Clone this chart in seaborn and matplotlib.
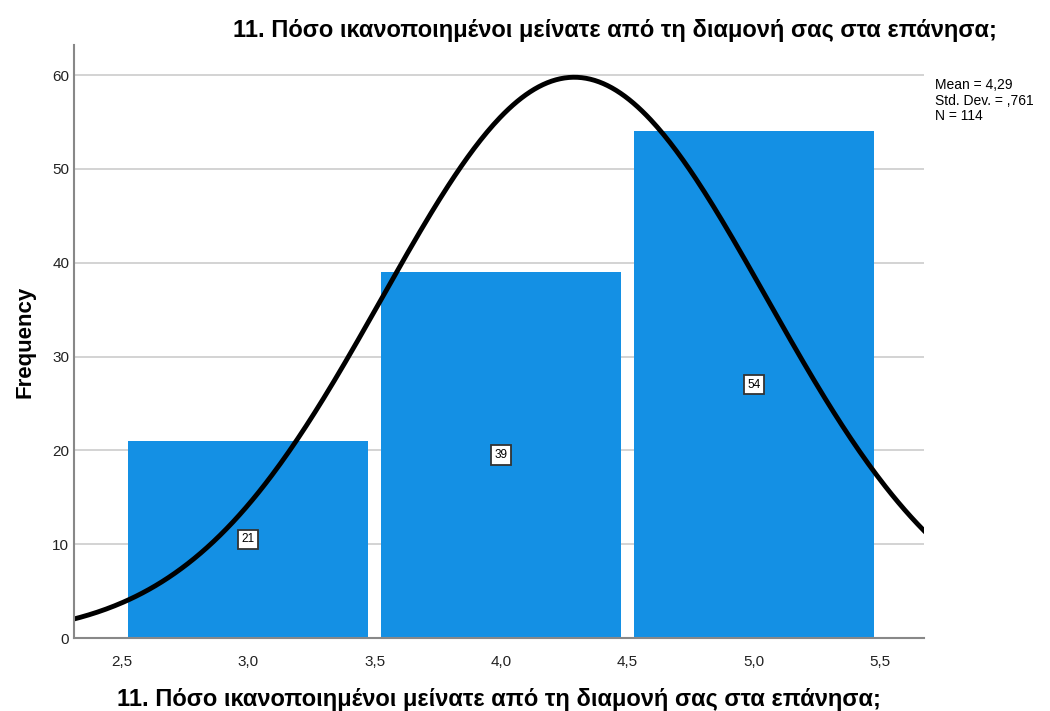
import numpy as np
import pandas as pd
import seaborn as sns
import matplotlib.pyplot as plt

# data
values = [3, 4, 5]
counts = [21, 39, 54]
bin_edges = [2.5, 3.5, 4.5, 5.5]
mean = 4.29
std = 0.761
n = 114
title = "11. Πόσο ικανοποιημένοι μείνατε από τη διαμονή σας στα επάνησα;"

sns.set_style("white")
plt.rcParams['font.family'] = ['Liberation Sans', 'DejaVu Sans']
plt.rcParams['text.color'] = 'black'
plt.rcParams['axes.labelcolor'] = 'black'

df = pd.DataFrame({'value': values, 'count': counts})

fig = plt.figure(figsize=(10.5, 7.11), dpi=100)
ax = fig.add_axes([74/1050, 1-638/711, 850/1050, 593/711])

ax.set_axisbelow(True)
ax.yaxis.grid(True, color='#cccccc', linewidth=1.2)

sns.histplot(data=df, x='value', weights='count', bins=bin_edges, shrink=0.95,
             color='#1490e4', alpha=1, edgecolor='none', ax=ax)

# normal curve scaled to counts (bin width 1)
xs = np.linspace(2.3, 5.7, 400)
ys = n * np.exp(-0.5*((xs-mean)/std)**2) / (std*np.sqrt(2*np.pi))
sns.lineplot(x=xs, y=ys, color='black', linewidth=3.5, ax=ax)

for v, c in zip(values, counts):
    ax.text(v, c/2, str(c), ha='center', va='center', fontsize=8.5,
            bbox=dict(boxstyle='square,pad=0.3', fc='white', ec='#333333', lw=1.3))

ax.set_xlim(2.31, 5.674)
ax.set_ylim(0, 63.2)
ax.set_xticks([2.5, 3.0, 3.5, 4.0, 4.5, 5.0, 5.5])
ax.set_xticklabels(['2,5', '3,0', '3,5', '4,0', '4,5', '5,0', '5,5'])
ax.set_yticks([0, 10, 20, 30, 40, 50, 60])
ax.tick_params(axis='both', labelsize=11, length=0, colors='#222222')
ax.tick_params(axis='x', pad=12)

for s in ['top', 'right']:
    ax.spines[s].set_visible(False)
ax.spines['left'].set_color('#888888')
ax.spines['bottom'].set_color('#888888')
ax.spines['left'].set_linewidth(1.5)
ax.spines['bottom'].set_linewidth(1.5)

ax.set_xlabel(title, fontsize=17, fontweight='bold', labelpad=14)
ax.set_ylabel('Frequency', fontsize=16, fontweight='bold', labelpad=12)
fig.text(615/1050, 1-30/711, title, ha='center', va='center', fontsize=17, fontweight='bold')

fig.text(935/1050, 1-78/711, 'Mean = 4,29\nStd. Dev. = ,761\nN = 114', ha='left', va='top',
         fontsize=10, linespacing=1.15)

fig.savefig('out.png', dpi=100)
